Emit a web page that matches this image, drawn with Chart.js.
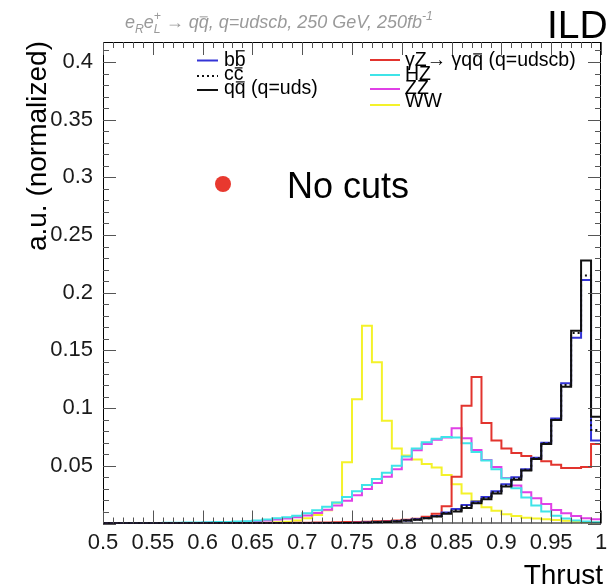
<!DOCTYPE html>
<html>
<head>
<meta charset="utf-8">
<script src="https://cdn.jsdelivr.net/npm/chart.js@4/dist/chart.umd.min.js"></script>
<style>
  html, body { margin: 0; padding: 0; background: #fff; }
</style>
</head>
<body>
<canvas id="thrustChart" width="608" height="588"></canvas>
<script>
// bin edges of the thrust histogram (50 bins, last edge = 1)
const binEdges = [0.50,0.51,0.52,0.53,0.54,0.55,0.56,0.57,0.58,0.59,
                  0.60,0.61,0.62,0.63,0.64,0.65,0.66,0.67,0.68,0.69,
                  0.70,0.71,0.72,0.73,0.74,0.75,0.76,0.77,0.78,0.79,
                  0.80,0.81,0.82,0.83,0.84,0.85,0.86,0.87,0.88,0.89,
                  0.90,0.91,0.92,0.93,0.94,0.95,0.96,0.97,0.98,0.99,1.00];

// bin contents
const bbValues = [0,0,0,0,0,0,0,0,0,0,
                  0,0,0,0,0,0,0,0,0,0,
                  0,0,0.0002,0.0003,0.0004,0.0006,0.0008,0.0011,0.0015,0.002,
                  0.0027,0.0036,0.0048,0.0065,0.0095,0.0125,0.016,0.019,0.023,0.028,
                  0.034,0.040,0.047,0.057,0.070,0.091,0.1215,0.161,0.211,0.072];
const ccValues = [0,0,0,0,0,0,0,0,0,0,
                  0,0,0,0,0,0,0,0,0,0,
                  0,0,0.0002,0.0003,0.0004,0.0005,0.0007,0.001,0.0014,0.0019,
                  0.0026,0.0034,0.0046,0.0062,0.009,0.0115,0.015,0.018,0.022,0.027,
                  0.033,0.039,0.0465,0.0565,0.0695,0.090,0.120,0.165,0.215,0.081];
const qqValues = [0,0,0,0,0,0,0,0,0,0,
                  0,0,0,0,0,0,0,0,0,0,
                  0,0,0.0002,0.0003,0.0004,0.0005,0.0007,0.001,0.0013,0.0018,
                  0.0025,0.0033,0.0045,0.006,0.0085,0.0105,0.0135,0.0175,0.021,0.026,
                  0.032,0.038,0.046,0.056,0.069,0.0897,0.1186,0.167,0.228,0.0925];
const gammaZValues = [0,0,0,0,0,0,0,0,0,0,
                      0,0,0,0,0,0.0002,0.0003,0.0004,0.0005,0.0006,
                      0.0007,0.0008,0.0009,0.001,0.0012,0.0014,0.0016,0.0019,0.0022,0.0027,
                      0.0033,0.0042,0.0058,0.0085,0.015,0.0405,0.102,0.127,0.087,0.072,
                      0.065,0.061,0.0585,0.0565,0.054,0.051,0.048,0.048,0.049,0.069];
const hzValues = [0.0003,0.0003,0.0004,0.0004,0.0005,0.0005,0.0006,0.0007,0.0008,0.0009,
                  0.001,0.0012,0.0014,0.0017,0.002,0.0027,0.0035,0.0045,0.0055,0.0068,
                  0.0088,0.0115,0.0145,0.0183,0.023,0.028,0.0333,0.0385,0.044,0.050,
                  0.058,0.065,0.0705,0.0735,0.075,0.0745,0.0695,0.062,0.0545,0.047,
                  0.039,0.0305,0.0225,0.0155,0.0105,0.0068,0.0043,0.0027,0.0017,0.001];
const zzValues = [0.0001,0.0001,0.0002,0.0002,0.0003,0.0003,0.0004,0.0004,0.0005,0.0005,
                  0.0006,0.0008,0.001,0.0012,0.0015,0.002,0.0026,0.0034,0.0043,0.0055,
                  0.007,0.0092,0.012,0.0155,0.0198,0.0245,0.0298,0.035,0.0405,0.047,
                  0.0555,0.0635,0.069,0.0725,0.0745,0.0825,0.0738,0.0637,0.055,0.049,
                  0.0395,0.033,0.027,0.0218,0.017,0.0117,0.0088,0.0065,0.0046,0.0036];
const wwValues = [0,0,0,0,0,0,0,0,0,0,
                  0,0,0,0,0.0002,0.0004,0.0007,0.001,0.0015,0.0025,
                  0.0045,0.0074,0.0115,0.018,0.053,0.1076,0.1714,0.1397,0.0891,0.065,
                  0.059,0.0555,0.0515,0.0485,0.042,0.034,0.026,0.0195,0.014,0.011,
                  0.008,0.0065,0.005,0.0043,0.0036,0.003,0.0024,0.0018,0.0013,0.0009];

const xTicks = [0.5,0.55,0.6,0.65,0.7,0.75,0.8,0.85,0.9,0.95,1];
const yTicks = [0.05,0.1,0.15,0.2,0.25,0.3,0.35,0.4];
const yMax = 0.4173;

const FONT = "'Liberation Sans', Arial, Helvetica, sans-serif";
Chart.defaults.font.family = FONT;

// histogram outline: one point per lower edge, then close at x = 1
function histPoints(values) {
  const pts = values.map((v, i) => ({ x: binEdges[i], y: v }));
  pts.push({ x: binEdges[binEdges.length - 1], y: values[values.length - 1] });
  pts.push({ x: binEdges[binEdges.length - 1], y: 0 });
  return pts;
}

function hist(label, values, color, dash) {
  return {
    label: label,
    data: histPoints(values),
    borderColor: color,
    borderWidth: 2,
    borderDash: dash || [],
    stepped: 'before',   // horizontal at the bin content, then vertical
    pointRadius: 0,
    fill: false
  };
}

// text with an overline over some parts (anti-quarks)
function drawParts(ctx, x, y, parts, size) {
  let cx = x;
  parts.forEach(p => {
    const fs = p.small ? size * 0.68 : size;
    ctx.font = (p.italic ? 'italic ' : '') + fs + 'px ' + FONT;
    const dy = p.sub ? size * 0.25 : (p.sup ? -size * 0.42 : 0);
    ctx.fillText(p.t, cx, y + dy);
    const w = ctx.measureText(p.t).width;
    if (p.bar) {
      const by = y - size * p.bar;
      ctx.beginPath();
      ctx.moveTo(cx + 1, by);
      ctx.lineTo(cx + w - 1, by);
      ctx.stroke();
    }
    if (!p.stack) cx += w;
  });
}

const rootStyle = {
  id: 'rootStyle',
  afterDatasetsDraw(chart) {
    const { ctx, chartArea: a, scales: { x, y } } = chart;
    ctx.save();
    ctx.strokeStyle = '#000';
    ctx.lineWidth = 1;
    ctx.strokeRect(a.left + 0.5, a.top + 0.5, a.right - a.left - 1, a.bottom - a.top - 1);
    ctx.strokeStyle = '#555';
    ctx.beginPath();
    for (let i = 0; i <= 50; i++) {
      const px = Math.round(x.getPixelForValue(0.5 + i * 0.01)) + 0.5;
      const len = i % 5 === 0 ? 13 : 6;
      ctx.moveTo(px, a.bottom); ctx.lineTo(px, a.bottom - len);
      ctx.moveTo(px, a.top); ctx.lineTo(px, a.top + len);
    }
    for (let i = 0; i <= 41; i++) {
      const py = Math.round(y.getPixelForValue(i * 0.01)) + 0.5;
      const len = i % 5 === 0 ? 13 : 6;
      ctx.moveTo(a.left, py); ctx.lineTo(a.left + len, py);
      ctx.moveTo(a.right, py); ctx.lineTo(a.right - len, py);
    }
    ctx.stroke();
    ctx.restore();
  },
  afterDraw(chart) {
    const ctx = chart.ctx;
    ctx.save();
    ctx.textBaseline = 'alphabetic';

    // process label on top
    ctx.fillStyle = '#9a9a9a';
    ctx.strokeStyle = '#9a9a9a';
    ctx.lineWidth = 1;
    drawParts(ctx, 125, 28, [
      { t: 'e', italic: true }, { t: 'R', italic: true, small: true, sub: true },
      { t: 'e', italic: true }, { t: '+', italic: true, small: true, sup: true, stack: true },
      { t: 'L', italic: true, small: true, sub: true },
      { t: ' \u2192 q', italic: true }, { t: 'q', italic: true, bar: 0.62 },
      { t: ', q=udscb, 250 GeV, 250fb', italic: true },
      { t: '-1', italic: true, small: true, sup: true }
    ], 18);

    // ILD
    ctx.fillStyle = '#000';
    ctx.font = '39px ' + FONT;
    ctx.fillText('ILD', 547, 38);

    // axis titles
    ctx.font = '28px ' + FONT;
    ctx.textAlign = 'right';
    ctx.fillText('Thrust', 603, 584);
    ctx.save();
    ctx.translate(46, 41);
    ctx.rotate(-Math.PI / 2);
    ctx.fillText('a.u. (normalized)', 0, 0);
    ctx.restore();
    ctx.textAlign = 'left';

    // legend
    const sets = chart.data.datasets;
    const sample = (x0, x1, yy, ds) => {
      ctx.save();
      ctx.strokeStyle = ds.borderColor;
      ctx.lineWidth = 2;
      ctx.setLineDash(ds.borderDash);
      ctx.beginPath();
      ctx.moveTo(x0, yy); ctx.lineTo(x1, yy);
      ctx.stroke();
      ctx.restore();
    };
    const byLabel = l => sets.find(d => d.label === l);
    sample(197, 218, 60.5, byLabel('bb'));
    sample(197, 218, 76, byLabel('cc'));
    sample(197, 218, 90, byLabel('qq'));
    sample(370, 400, 60, byLabel('gammaZ'));
    sample(370, 400, 75, byLabel('HZ'));
    sample(370, 400, 89, byLabel('ZZ'));
    sample(370, 400, 105, byLabel('WW'));

    ctx.fillStyle = '#000';
    ctx.strokeStyle = '#000';
    ctx.lineWidth = 1.2;
    const fs = 19.5;
    drawParts(ctx, 224, 66, [{ t: 'b' }, { t: 'b', bar: 0.78 }], fs);
    drawParts(ctx, 224, 80, [{ t: 'c' }, { t: 'c', bar: 0.62 }], fs);
    drawParts(ctx, 224, 94, [{ t: 'q' }, { t: 'q', bar: 0.62 }, { t: ' (q=uds)' }], fs);
    drawParts(ctx, 405, 66, [{ t: '\u03b3Z\u2192 \u03b3q' }, { t: 'q', bar: 0.62 }, { t: ' (q=udscb)' }], fs);
    drawParts(ctx, 405, 80, [{ t: 'HZ' }], fs);
    drawParts(ctx, 405, 93.5, [{ t: 'ZZ' }], fs);
    drawParts(ctx, 405, 107, [{ t: 'WW' }], fs);

    // No cuts
    ctx.fillStyle = '#e8392f';
    ctx.beginPath();
    ctx.arc(223, 184, 8, 0, Math.PI * 2);
    ctx.fill();
    ctx.fillStyle = '#000';
    ctx.font = '36px ' + FONT;
    ctx.fillText('No cuts', 287, 198);
    ctx.restore();
  }
};

new Chart(document.getElementById('thrustChart'), {
  type: 'line',
  data: {
    datasets: [
      hist('qq', qqValues, '#111111'),
      hist('cc', ccValues, '#111111', [2, 3]),
      hist('bb', bbValues, '#3434d6'),
      hist('gammaZ', gammaZValues, '#e2342e'),
      hist('HZ', hzValues, '#3fe4e8'),
      hist('ZZ', zzValues, '#e040e6'),
      hist('WW', wwValues, '#f4f22a')
    ]
  },
  options: {
    responsive: false,
    animation: false,
    layout: { padding: { top: 42, right: 7, left: 0, bottom: 0 } },
    plugins: { legend: { display: false }, tooltip: { enabled: false } },
    scales: {
      x: {
        type: 'linear',
        min: 0.5,
        max: 1,
        afterFit: s => { s.height = 64.5; s.paddingLeft = 0; s.paddingRight = 0; },
        afterBuildTicks: s => { s.ticks = xTicks.map(v => ({ value: v })); },
        grid: { display: false, drawTicks: false },
        border: { display: false },
        ticks: {
          autoSkip: false, maxRotation: 0, minRotation: 0,
          padding: 6, color: '#1a1a1a', font: { size: 22 },
          callback: v => String(+v.toFixed(2))
        }
      },
      y: {
        min: 0,
        max: yMax,
        afterFit: s => { s.width = 103; },
        afterBuildTicks: s => { s.ticks = yTicks.map(v => ({ value: v })); },
        grid: { display: false, drawTicks: false },
        border: { display: false },
        ticks: {
          padding: 10, color: '#1a1a1a', font: { size: 22 },
          callback: v => String(+v.toFixed(2))
        }
      }
    }
  },
  plugins: [rootStyle]
});
</script>
</body>
</html>
